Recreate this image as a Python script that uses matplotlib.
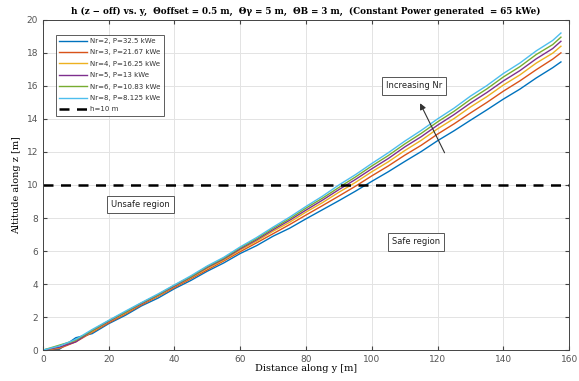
import matplotlib
matplotlib.use("Agg")
import matplotlib.pyplot as plt

# distance along y [m]
y_dist = [0, 5, 10, 15, 20, 25, 30, 35, 40, 45, 50, 55, 60, 65, 70, 75, 80,
          85, 90, 95, 100, 105, 110, 115, 120, 125, 130, 135, 140, 145, 150, 155, 157.5]

# altitude h for each number of rotors
h_nr2 = [0, 0.05, 0.75, 1.00, 1.60, 2.10, 2.68, 3.15, 3.72, 4.22, 4.78, 5.28, 5.85, 6.33, 6.90, 7.38, 7.95,
         8.50, 9.05, 9.62, 10.22, 10.80, 11.42, 12.02, 12.68, 13.28, 13.92, 14.55, 15.20, 15.80, 16.48, 17.10, 17.45]
h_nr3 = [0, 0.10, 0.50, 1.08, 1.65, 2.18, 2.74, 3.25, 3.79, 4.32, 4.86, 5.40, 5.96, 6.50, 7.05, 7.60, 8.18,
         8.75, 9.33, 9.92, 10.55, 11.15, 11.80, 12.40, 13.08, 13.70, 14.36, 15.00, 15.68, 16.30, 16.98, 17.62, 18.00]
h_nr4 = [0, 0.15, 0.55, 1.12, 1.72, 2.23, 2.80, 3.28, 3.85, 4.38, 4.95, 5.46, 6.06, 6.60, 7.20, 7.74, 8.36,
         8.93, 9.56, 10.15, 10.80, 11.40, 12.08, 12.70, 13.40, 14.02, 14.72, 15.35, 16.05, 16.66, 17.38, 17.98, 18.40]
h_nr5 = [0, 0.18, 0.50, 1.18, 1.74, 2.28, 2.82, 3.33, 3.88, 4.42, 5.01, 5.52, 6.13, 6.68, 7.29, 7.86, 8.48,
         9.08, 9.72, 10.33, 10.98, 11.60, 12.30, 12.92, 13.62, 14.26, 14.96, 15.60, 16.30, 16.92, 17.64, 18.26, 18.70]
h_nr6 = [0, 0.30, 0.60, 1.20, 1.78, 2.30, 2.86, 3.36, 3.93, 4.45, 5.06, 5.57, 6.20, 6.75, 7.38, 7.95, 8.60,
         9.20, 9.85, 10.48, 11.15, 11.78, 12.48, 13.12, 13.82, 14.46, 15.18, 15.82, 16.54, 17.16, 17.90, 18.50, 18.95]
h_nr8 = [0, 0.25, 0.65, 1.25, 1.80, 2.35, 2.88, 3.40, 3.95, 4.50, 5.10, 5.62, 6.25, 6.82, 7.45, 8.05, 8.70,
         9.32, 10.00, 10.62, 11.30, 11.95, 12.65, 13.30, 14.00, 14.65, 15.38, 16.02, 16.75, 17.38, 18.12, 18.75, 19.20]

labels = ["Nr=2, P=32.5 kWe", "Nr=3, P=21.67 kWe", "Nr=4, P=16.25 kWe",
          "Nr=5, P=13 kWe", "Nr=6, P=10.83 kWe", "Nr=8, P=8.125 kWe"]
colors = ["#0072bd", "#d95319", "#edb120", "#7e2f8e", "#77ac30", "#4dbeee"]
h_limit = 10

fig = plt.figure(figsize=(5.79, 3.81), dpi=100)
ax = fig.add_axes([0.074, 0.081, 0.909, 0.867])

for h, lab, c in zip([h_nr2, h_nr3, h_nr4, h_nr5, h_nr6, h_nr8], labels, colors):
    ax.plot(y_dist, h, color=c, lw=1.0, label=lab)
ax.axhline(h_limit, color="black", ls=(0, (4, 3)), lw=1.8, label="h=10 m")

ax.set_xlim(0, 160)
ax.set_ylim(0, 20)
ax.set_xticks(range(0, 161, 20))
ax.set_yticks(range(0, 21, 2))
ax.grid(True, color="#e3e3e3", lw=0.7)
ax.set_axisbelow(True)
ax.tick_params(direction="in", labelsize=6.5, labelcolor="#555555", color="#444444",
               length=3, top=True, right=True)
for s in ax.spines.values():
    s.set_color("#444444")
    s.set_linewidth(0.7)

ax.set_title("h (z \u2212 off) vs. y,  \u0398offset = 0.5 m,  \u0398\u03b3 = 5 m,  \u0398B = 3 m,  "
             "(Constant Power generated  = 65 kWe)",
             family="DejaVu Serif", fontsize=6.3, fontweight="bold", pad=4)
ax.set_xlabel("Distance along y [m]", family="DejaVu Serif", fontsize=7, labelpad=0)
ax.set_ylabel("Altitude along z [m]", family="DejaVu Serif", fontsize=7, labelpad=4)

leg = ax.legend(loc="upper left", bbox_to_anchor=(0.018, 0.965), fontsize=5,
                frameon=True, fancybox=False, edgecolor="#333333", handlelength=4.0,
                borderpad=0.45, labelspacing=0.78, handletextpad=0.5)
leg.get_frame().set_linewidth(0.7)
for t in leg.get_texts():
    t.set_color("#333333")

box = dict(boxstyle="square,pad=0.5", fc="white", ec="#555555", lw=0.7)
ax.text(29.6, 8.8, "Unsafe region", fontsize=6, ha="center", va="center", bbox=box, color="#222222")
ax.text(113.4, 6.55, "Safe region", fontsize=6, ha="center", va="center", bbox=box, color="#222222")
ax.text(112.8, 16.0, "Increasing Nr", fontsize=6, ha="center", va="center", bbox=box, color="#222222")
ax.annotate("", xy=(114.3, 15.1), xytext=(122.5, 11.8),
            arrowprops=dict(arrowstyle="-|>", color="#333333", lw=0.8, mutation_scale=9))

fig.savefig("out.png", dpi=100)
